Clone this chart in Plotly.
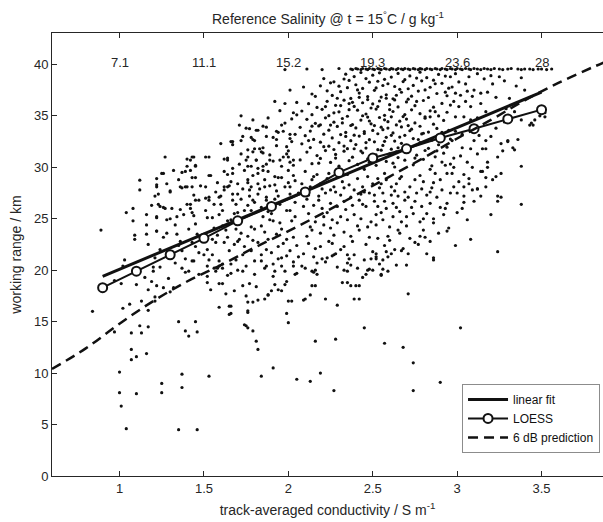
import plotly.graph_objects as go

# ---------------- data ----------------
linear_x = [0.9, 3.5]
linear_y = [19.4, 37.3]

loess_x = [0.9, 1.1, 1.3, 1.5, 1.7, 1.9, 2.1, 2.3, 2.5, 2.7, 2.9, 3.1, 3.3, 3.5]
loess_y = [18.3, 19.9, 21.5, 23.1, 24.8, 26.2, 27.6, 29.5, 30.9, 31.8, 32.85, 33.75, 34.7, 35.6]

pred_x = [0.6, 0.8, 1.0, 1.2, 1.4, 1.6, 1.8, 2.0, 2.2, 2.4, 2.6, 2.8, 3.0, 3.2, 3.4, 3.6, 3.8, 3.9]
pred_y = [10.4, 12.4, 14.8, 17.0, 18.9, 20.5, 22.2, 23.8, 25.5, 27.3, 29.1, 30.9, 32.8, 34.6, 36.5, 38.2, 39.7, 40.4]

cond_ticks = [1, 1.5, 2, 2.5, 3, 3.5]
cond_labels = ["1", "1.5", "2", "2.5", "3", "3.5"]
sal_labels = ["7.1", "11.1", "15.2", "19.3", "23.6", "28"]
range_ticks = [0, 5, 10, 15, 20, 25, 30, 35, 40]

# tracks that hit the maximum range (saturated row)
band_pts = [(1.98,39.5),(2.11,39.55),(2.20,39.5),(2.30,39.6),
 (2.37,39.55),(2.38,39.5),(2.40,39.6),(2.41,39.55),(2.43,39.5),(2.44,39.6),(2.46,39.55),(2.47,39.5),
 (2.48,39.6),(2.50,39.55),(2.51,39.5),(2.53,39.6),(2.54,39.55),(2.55,39.5),(2.57,39.6),(2.58,39.55),
 (2.60,39.5),(2.61,39.6),(2.62,39.55),(2.64,39.5),(2.65,39.6),(2.67,39.55),(2.68,39.5),(2.69,39.6),
 (2.71,39.55),(2.72,39.5),(2.74,39.6),(2.75,39.55),(2.77,39.5),(2.78,39.6),(2.79,39.55),(2.81,39.5),
 (2.82,39.6),(2.84,39.55),(2.85,39.5),(2.87,39.6),(2.88,39.55),(2.90,39.5),(2.91,39.6),(2.93,39.55),
 (2.94,39.5),(2.96,39.6),(2.97,39.55),(2.99,39.5),(3.00,39.6),(3.02,39.55),(3.03,39.5),(3.05,39.6),
 (3.07,39.55),(3.08,39.5),(3.10,39.6),(3.12,39.55),(3.14,39.5),(3.16,39.6),(3.18,39.55),(3.20,39.5),
 (3.22,39.6),(3.25,39.55),(3.27,39.5),(3.30,39.55),(3.32,39.6),(3.36,39.55),(3.38,39.5),(3.40,39.55),
 (3.43,39.55),(3.45,39.5),(3.48,39.55),(3.50,39.55),(3.53,39.5),(3.56,39.55)]

sparse_pts = [(0.84,16.0),(0.97,14.0),(1.00,10.1),(1.00,8.1),(1.01,6.8),(1.04,4.6),(1.02,16.3),(1.06,16.7),
 (1.01,18.7),(1.07,12.3),(1.07,11.3),(1.10,11.6),(1.10,8.0),(1.10,18.6),(1.07,13.9),(1.12,14.6),(1.13,13.9),
 (1.16,11.9),(1.13,17.0),(1.17,16.1),(1.17,14.5),(1.17,18.1),(1.21,17.4),(1.21,17.0),(1.22,18.5),(1.25,9.0),
 (1.25,8.1),(1.26,18.3),(1.30,17.9),(1.32,18.3),(1.35,15.0),(1.37,9.9),(1.37,8.6),(1.35,4.5),(1.39,14.1),
 (1.41,13.6),(1.45,15.0),(1.46,14.0),(1.46,4.5),(1.53,9.7),(1.59,16.4),(1.65,15.7),(1.65,16.5),(1.74,14.7),
 (1.76,14.4),(1.79,14.1),(1.76,15.9),(1.81,13.1),(1.82,12.3),(1.84,9.7),(1.91,10.5),(1.99,15.8),(2.00,14.9),
 (2.00,17.0),(2.05,9.4),(2.16,13.1),(2.28,13.3),(2.19,10.0),(2.13,9.2),(2.27,8.3),(2.45,14.4),(2.57,12.9),
 (2.68,12.5),(2.74,11.0),(2.74,8.3),(2.90,9.1),(3.02,14.4),(2.71,17.7),(2.29,16.6),(2.22,17.2),(2.42,17.2),
 (2.10,17.2),(2.13,17.6),(2.02,17.0),(1.86,17.2),(1.88,17.6),(1.79,16.9),(2.35,18.8),(2.42,18.5),(0.89,23.9),
 (1.66,16.5),(1.66,15.8),(1.76,16.05),(1.75,14.6),(2.09,17.1),(2.16,18.5),(1.54,18.1),(1.63,17.7),(1.68,18.0),
 (1.75,17.5),(1.76,16.9),(1.82,17.1),(1.88,17.6),(1.90,18.0),(1.94,18.1),(2.14,18.5),(2.37,18.5),(2.40,18.5),
 (2.39,17.2),(2.32,18.8),(0.97,19.0),(1.15,19.3),(1.19,18.9),(1.29,19.2)]

left_pts = [(1.03,21.0),(1.08,26.0),(1.04,25.6),(1.08,24.8),(1.09,23.4),(1.09,23.0),(1.12,28.75),(1.12,27.8),
 (1.16,25.4),(1.16,24.4),(1.16,23.5),(1.19,26.3),(1.17,22.5),(1.22,28.9),(1.22,28.3),(1.23,27.4),(1.22,25.2),
 (1.22,23.8),(1.24,26.2),(1.27,31.0),(1.26,29.4),(1.27,26.0),(1.28,24.9),(1.28,23.6),(1.30,27.7),(1.32,29.7),
 (1.31,26.0),(1.33,24.4),(1.34,25.2),(1.34,23.5),(1.37,28.0),(1.39,28.1),(1.38,25.4),(1.39,29.6),(1.40,30.8),
 (1.43,31.0),(1.41,24.0),(1.40,26.4),(1.42,26.0),(1.44,27.3),(1.45,26.8),(1.43,29.0),(1.45,30.2),(1.43,28.1),
 (1.44,25.3),(1.45,24.5),(1.46,23.5),(1.20,19.9),(1.24,20.3),(1.33,20.7),(1.39,19.8),(1.43,20.9),(1.47,19.6),
 (1.02,20.4),(1.20,20.3),(1.35,22.4),(1.39,21.1),(1.45,22.3),(1.25,29.4),(1.35,28.8),(1.37,29.5),(1.42,29.7),
 (1.45,29.0),(1.22,28.1),(1.28,28.4),(1.36,28.1),(1.40,28.1),(1.48,28.2),(1.21,27.2),(1.23,26.4),(1.26,26.1),
 (1.30,27.6),(1.22,25.1),(1.30,25.0),(1.36,25.9),(1.42,26.4),(1.47,26.8),(1.43,25.6),(1.22,23.8),(1.26,23.2),
 (1.24,22.0),(1.21,21.2),(1.36,22.8),(1.37,21.9),(1.43,22.7),(1.47,21.7),(1.44,20.9),(1.41,19.9),(1.37,20.2),
 (1.44,31.0),(1.42,30.7),(1.40,30.1),(1.45,30.1)]

midleft_pts = [(1.51,31.0),(1.53,31.0),(1.54,29.2),(1.51,28.1),(1.51,27.0),(1.53,26.8),(1.51,25.8),(1.55,25.1),
 (1.56,24.1),(1.60,32.3),(1.60,27.2),(1.60,26.4),(1.62,27.8),(1.64,30.7),(1.64,28.1),(1.66,24.9),(1.66,32.5),
 (1.67,29.4),(1.67,32.2),(1.67,26.8),(1.68,25.5),(1.69,24.0),(1.70,27.4),(1.72,35.0),(1.73,33.0),(1.74,29.7),
 (1.75,30.7),(1.75,33.8),(1.76,31.7),(1.76,28.8),(1.77,27.8),(1.78,25.8),(1.78,24.2),(1.79,26.8),(1.80,32.6),
 (1.81,33.6),(1.81,30.7),(1.82,29.4),(1.83,31.8),(1.84,31.5),(1.85,34.0),(1.85,29.7),(1.86,28.1),(1.87,26.8),
 (1.88,25.7),(1.89,30.7),(1.89,24.9),(1.91,32.9),(1.91,30.6),(1.92,29.1),(1.93,33.5),(1.94,27.2),(1.98,36.2),
 (1.98,34.3),(1.99,32.0),(2.00,29.7),(2.01,28.1),(2.01,25.8),(2.03,30.7),(2.04,33.2),(2.05,35.1),(2.06,27.5),
 (1.77,33.75),(1.82,33.6),(1.87,33.9),(1.94,33.4),(1.96,34.1),(2.02,34.7),(2.03,35.3),(1.97,33.5),(2.01,33.2),
 (1.67,32.5),(1.72,32.6),(1.78,32.9),(1.79,32.7),(1.87,33.0),(1.93,32.7),(1.93,32.1),(2.01,32.8),(2.02,32.5),
 (1.62,30.8),(1.64,30.9),(1.72,31.3),(1.76,31.0),(1.80,31.8),(1.85,31.9),(1.85,31.4),(1.79,31.5),(1.78,30.1),
 (1.81,30.7),(1.82,29.9),(1.85,30.1),(1.87,30.3),(1.89,31.2),(1.95,30.7),(1.96,30.1),(1.97,31.0),(1.99,31.3),
 (2.00,31.6),(2.00,31.0),(2.01,30.5),(2.03,30.2),(1.67,29.9),(1.76,30.1),
 (1.53,29.2),(1.64,29.3),(1.58,28.5),(1.62,28.1),(1.65,28.2),(1.70,28.4),(1.76,28.5),(1.78,28.1),(1.82,28.4),
 (1.86,28.8),(1.89,28.2),(1.94,29.0),(1.98,28.1),(2.00,28.5),(2.03,29.2),(1.52,25.1),(1.53,27.1),(1.56,26.4),
 (1.59,27.1),(1.61,25.8),(1.64,24.8),(1.67,27.4),(1.69,26.4),(1.72,26.9),(1.74,25.8),(1.77,27.2),(1.80,26.6),
 (1.82,27.4),(1.84,26.1),(1.84,24.3),(1.87,27.1),(1.90,25.5),(1.91,24.8),(1.93,27.7),(1.95,26.4),(1.96,24.0),
 (1.99,25.8),(2.01,27.4),(2.02,24.8),(2.03,23.2),(1.52,22.0),(1.55,21.5),(1.57,22.7),(1.59,20.9),(1.61,20.2),
 (1.62,22.7),(1.65,21.9),(1.64,23.2),(1.69,21.0),(1.70,22.8),(1.73,21.5),(1.74,22.3),(1.75,20.4),(1.76,23.3),
 (1.78,21.9),(1.80,20.9),(1.82,22.7),(1.84,21.5),(1.86,20.2),(1.88,23.0),(1.90,21.7),(1.91,20.6),(1.94,22.3),
 (1.96,21.2),(1.98,19.9),(1.99,23.0),(2.01,21.9),(2.03,20.8),(2.04,19.6),(1.57,19.9),(1.66,19.7),(1.80,19.6),
 (1.91,19.4),(1.50,21.5),(1.53,21.0),(1.52,20.4),(1.56,20.2),(1.58,20.2),(1.59,20.4),(1.61,20.6),(1.52,19.4),
 (1.52,18.8),(1.59,18.7),(1.61,18.7),(1.64,19.5),(1.70,20.0),(1.73,18.5),(1.77,18.7),(1.81,18.4),(1.87,20.4),
 (1.92,18.6),(1.96,18.0),(1.98,18.6),(1.99,18.9),(1.92,19.9),(1.96,20.4),(1.99,21.4),(2.03,20.4),(2.05,19.7),
 (1.58,23.4),(1.63,23.9),(1.72,23.6),(1.80,24.0),(1.86,23.7),(1.93,23.5),(1.55,23.0),(1.68,22.5),(1.97,22.6)]

center_upper_pts = [(2.34,39.05),(2.39,38.82),(2.43,39.21),(2.50,38.95),(2.54,39.18),(2.61,38.77),(2.65,39.12),
 (2.72,38.88),(2.78,39.24),(2.82,38.71),(2.89,39.02),(2.93,38.86),(2.46,38.62),(2.57,38.55),(2.69,38.51),(2.86,38.47),
 (2.21,38.62),(2.27,38.31),(2.30,37.88),(2.36,38.44),(2.40,38.02),(2.48,38.27),(2.52,37.71),(2.59,38.12),(2.63,37.85),
 (2.68,38.33),(2.74,37.96),(2.79,38.40),(2.84,37.78),(2.91,38.16),(2.95,37.69),(2.19,37.92),(2.44,37.66),(2.56,37.95),
 (2.71,37.63),(2.35,37.74),
 (2.14,37.12),(2.23,37.43),(2.26,36.98),(2.31,37.35),(2.37,36.69),(2.42,37.21),(2.47,36.87),(2.51,37.48),(2.58,37.04),
 (2.62,36.66),(2.67,37.29),(2.73,36.91),(2.77,37.41),(2.83,36.78),(2.88,37.17),(2.94,36.95),(2.29,36.71),(2.55,36.82),
 (2.81,37.52),
 (2.12,36.18),(2.17,35.82),(2.23,36.41),(2.28,36.02),(2.33,36.52),(2.39,35.91),(2.44,36.27),(2.49,35.76),(2.54,36.44),
 (2.60,36.08),(2.65,35.87),(2.70,36.35),(2.75,35.99),(2.80,36.49),(2.86,35.84),(2.91,36.21),(2.96,36.05),(2.36,36.19),
 (2.63,36.55),(2.47,36.58),
 (2.08,35.47),(2.14,35.11),(2.20,35.63),(2.24,35.02),(2.30,35.39),(2.35,34.96),(2.41,35.55),(2.46,35.18),(2.52,35.66),
 (2.57,35.05),(2.62,35.42),(2.68,34.93),(2.73,35.58),(2.78,35.21),(2.84,35.49),(2.89,34.99),(2.94,35.35),(2.27,35.29),
 (2.60,35.61),(2.81,34.91),
 (2.11,34.66),(2.16,34.27),(2.22,34.81),(2.27,34.38),(2.32,34.74),(2.38,34.15),(2.43,34.59),(2.49,34.22),(2.54,34.84),
 (2.59,34.43),(2.64,34.12),(2.70,34.69),(2.75,34.31),(2.81,34.77),(2.86,34.19),(2.92,34.55),(2.47,34.88),(2.66,34.48),
 (2.19,34.13),
 (2.07,33.88),(2.13,33.52),(2.18,34.02),(2.24,33.61),(2.29,33.97),(2.34,33.39),(2.40,33.83),(2.45,33.47),(2.51,34.05),
 (2.56,33.66),(2.62,33.34),(2.67,33.92),(2.72,33.55),(2.78,33.99),(2.83,33.42),(2.88,33.78),(2.95,33.58),(2.37,34.06),
 (2.59,33.81),(2.80,33.31),
 (2.10,33.07),(2.15,32.71),(2.21,33.22),(2.26,32.85),(2.31,33.18),(2.37,32.59),(2.42,33.03),(2.48,32.68),(2.53,33.26),
 (2.58,32.91),(2.63,32.55),(2.69,33.11),(2.74,32.79),(2.79,33.24),(2.85,32.63),(2.90,32.97),(2.96,32.74),(2.45,33.29),
 (2.66,32.94),
 (2.08,32.28),(2.13,31.92),(2.19,32.44),(2.24,32.05),(2.30,32.39),(2.35,31.81),(2.40,32.21),(2.46,31.87),(2.51,32.47),
 (2.56,32.12),(2.61,31.76),(2.67,32.33),(2.72,31.98),(2.78,32.41),(2.83,31.84),(2.89,32.19),(2.94,31.95),(2.27,31.73),
 (2.53,31.71),
 (2.11,31.48),(2.17,31.14),(2.22,31.62),(2.28,31.25),(2.33,31.57),(2.38,30.98),(2.44,31.41),(2.49,31.06),(2.55,31.66),
 (2.60,31.31),(2.65,30.94),(2.71,31.52),(2.76,31.18),(2.81,31.63),(2.87,31.02),(2.92,31.37),
 (2.07,30.72),(2.14,30.35),(2.19,30.86),(2.25,30.47),(2.30,30.11),(2.36,30.64),(2.41,30.28),(2.47,30.81),(2.52,30.19),
 (2.58,30.57),(2.63,30.03),(2.69,30.69),(2.74,30.24),(2.80,30.77),(2.85,30.14),(2.91,30.51),(2.96,30.31),
 (2.25,38.21),(2.33,38.58),(2.41,37.52),(2.53,38.36),(2.66,37.58),(2.76,38.67),(2.87,38.12),(2.38,36.31),(2.50,36.16),
 (2.58,36.71),(2.71,36.62),(2.32,34.31),(2.44,35.01),(2.57,34.61),(2.69,35.12),(2.39,33.12),(2.50,33.58),(2.61,33.11),
 (2.71,34.05),(2.33,32.06),(2.43,31.58),(2.57,32.52),(2.48,30.49),(2.64,31.49)]

center_lower_pts = [(2.10,29.6),(2.15,29.1),(2.19,28.4),(2.12,27.3),(2.18,27.2),(2.22,27.5),(2.27,28.1),(2.31,27.3),
 (2.36,28.3),(2.39,27.8),(2.41,28.9),(2.47,29.1),(2.50,28.4),(2.54,28.0),(2.58,28.8),(2.64,28.4),(2.67,29.1),
 (2.72,28.1),(2.76,27.5),(2.80,28.6),(2.85,28.0),(2.90,28.8),(2.94,29.4),(2.94,26.5),(2.92,25.4),(2.89,23.6),
 (2.86,21.0),(2.82,21.6),(2.80,23.9),(2.78,24.7),(2.74,25.5),(2.70,25.2),(2.66,25.7),(2.62,26.5),(2.59,23.3),
 (2.60,22.9),(2.63,22.0),(2.68,22.1),(2.56,21.0),(2.52,21.3),(2.50,21.8),(2.46,22.5),(2.45,21.0),(2.39,21.5),
 (2.37,20.5),(2.35,19.9),(2.31,22.0),(2.27,21.5),(2.24,22.8),(2.19,22.3),(2.15,21.3),(2.16,20.0),(2.10,20.2),
 (2.09,21.6),(2.11,23.3),(2.14,23.9),(2.19,23.6),(2.25,24.1),(2.27,23.4),(2.33,23.7),(2.37,23.3),(2.42,23.9),
 (2.47,24.2),(2.49,24.7),(2.52,24.4),(2.56,24.9),(2.60,24.2),(2.62,25.2),(2.43,25.0),(2.39,25.4),(2.35,24.9),
 (2.31,25.2),(2.26,24.9),(2.21,25.2),(2.16,24.7),(2.12,25.5),(2.09,26.2),(2.15,26.3),(2.20,26.0),(2.25,26.5),
 (2.29,26.2),(2.33,26.7),(2.38,26.3),(2.42,26.8),(2.46,26.2),(2.51,26.7),(2.53,26.2),(2.57,26.7),(2.51,27.3),
 (2.56,27.5),(2.61,27.3),(2.69,26.8),(2.75,26.7),(2.79,26.2),(2.84,26.5),(2.88,27.1),(2.82,25.5),(2.86,25.0),
 (2.78,23.3),(2.84,22.8),(2.72,23.1),(2.66,23.6),(2.53,23.1),(2.33,22.3),(2.17,20.7),(2.23,21.2),(2.29,20.3),
 (2.47,20.0),(2.59,19.9),(2.70,20.5),(2.86,21.2),(2.08,28.4),(2.13,28.1),(2.17,29.3),(2.23,28.9),(2.25,27.8),
 (2.30,29.1),(2.33,28.0),(2.44,28.1),(2.48,27.5),(2.53,28.9),(2.61,28.1),(2.69,27.6),(2.75,28.8),(2.82,27.3),
 (2.87,29.4),(2.91,27.8),(2.08,20.4),(2.14,19.9),(2.15,19.8),(2.17,19.6),(2.20,21.1),(2.22,20.8),(2.26,21.4),
 (2.28,21.6),(2.33,20.0),(2.35,20.7),(2.35,21.5),(2.36,21.1),(2.41,20.2),(2.44,19.3),(2.46,19.6),(2.48,20.1),
 (2.49,21.1),(2.52,21.1),(2.52,21.6),(2.55,19.5),(2.56,20.1),(2.58,21.8),(2.61,21.6),(2.50,20.0),(2.55,19.6),
 (2.71,21.6),(2.75,22.7),(2.67,21.9),(2.59,21.3),(2.64,20.5),(2.54,20.6),(2.81,23.2),(2.86,24.6),(2.94,23.8),
 (2.95,24.1),(2.93,26.0),(2.12,22.6),(2.21,24.4),(2.29,24.6),(2.41,24.3),(2.55,25.6),(2.67,24.7),(2.73,26.1),
 (2.18,26.8),(2.28,27.6),(2.37,27.1),(2.45,27.6),(2.58,26.0),(2.65,27.2),(2.79,27.9),(2.90,26.1)]

core_extra_pts = [(2.16,36.9),(2.22,35.9),(2.31,36.0),(2.42,36.8),(2.53,35.9),(2.64,37.0),(2.76,36.4),(2.87,35.4),
 (2.93,37.3),(2.14,34.0),(2.25,34.1),(2.36,35.6),(2.48,34.5),(2.61,34.9),(2.73,33.7),(2.84,34.9),(2.91,33.4),
 (2.12,32.6),(2.21,32.0),(2.34,33.0),(2.46,32.4),(2.55,33.9),(2.65,31.9),(2.77,32.7),(2.88,31.6),
 (2.18,30.4),(2.28,30.9),(2.39,31.8),(2.52,31.2),(2.62,30.4),(2.75,30.9),(2.84,29.8),(2.93,30.2),
 (2.14,28.8),(2.24,29.4),(2.35,29.3),(2.45,29.8),(2.57,29.4),(2.66,28.9),(2.78,29.2),(2.86,28.5),
 (2.11,26.9),(2.20,27.9),(2.32,28.6),(2.43,27.4),(2.55,28.4),(2.63,27.7),(2.71,27.1),(2.84,27.6),
 (2.13,24.2),(2.23,25.6),(2.34,25.9),(2.44,26.4),(2.52,25.4),(2.64,26.1),(2.70,24.3),(2.80,25.0),
 (2.16,22.1),(2.26,22.6),(2.38,22.8),(2.48,23.2),(2.57,22.4),(2.65,23.9),(2.77,22.5),
 (1.62,29.6),(1.71,30.3),(1.79,29.2),(1.88,29.6),(1.96,29.0),(2.04,28.7),
 (1.57,27.6),(1.66,28.6),(1.73,27.9),(1.83,27.9),(1.92,28.3),(2.04,26.6),
 (1.59,25.4),(1.70,25.6),(1.76,26.3),(1.85,25.2),(1.92,26.9),(2.04,25.2),
 (1.61,24.3),(1.71,23.0),(1.79,22.9),(1.87,22.0),(1.95,24.6),(2.05,22.4),
 (1.66,20.6),(1.73,19.9),(1.84,20.9),(1.94,21.1),(2.06,21.3),
 (1.71,34.1),(1.79,34.6),(1.88,34.8),(1.95,35.5),(2.05,36.3),(2.09,37.8),(1.92,36.4),(2.01,37.5)]

right_pts = [(3.38,30.1),(3.38,26.4),(3.24,21.8),(3.06,24.9),(3.10,26.7),(3.24,26.7),(3.26,27.1),(3.26,29.4),
 (3.21,28.8),(3.15,29.6),(3.17,31.8),(3.26,32.3),(3.30,32.6),(3.34,31.7),(3.45,34.1),(3.46,34.6),(3.52,35.3),
 (3.52,34.9),(3.43,34.1),(3.24,31.0),(3.07,28.4),(3.12,27.9),(3.18,30.5),(3.03,26.0),(3.00,25.6),(3.04,26.6),
 (3.38,34.6),(3.44,34.3),(3.49,35.0),(3.29,35.7),(3.34,35.4),(3.28,34.4),(3.23,33.8),(3.30,32.5),(3.36,32.7),
 (3.33,31.9),(3.27,31.6),(3.23,29.1),(3.24,27.2),(3.17,29.0),(3.18,30.0),(3.14,29.6),(3.12,31.3),(3.15,31.8),
 (3.17,32.6),(3.20,33.0),(3.10,32.6),(3.08,31.8),(3.03,31.9),(3.02,31.1),(3.06,30.5),(3.09,30.0),(3.04,29.3),
 (3.07,28.9),(3.01,28.6),(2.98,28.1),(2.96,27.5),(3.04,28.1),(3.09,27.8),(3.12,27.9),(3.14,27.2),(3.17,28.1),
 (2.96,38.8),(2.99,39.1),(3.01,38.3),(2.97,37.8),(2.99,37.2),(3.05,38.1),(3.07,38.8),(3.10,37.5),(3.12,39.1),
 (3.14,37.2),(3.16,38.6),(3.20,38.9),(3.25,38.8),(3.28,38.4),(3.21,38.1),(3.18,37.3),(3.23,36.8),(3.14,36.2),
 (3.08,35.9),(3.05,36.4),(3.01,35.9),(2.99,34.9),(3.04,34.9),(3.08,34.6),(3.12,34.8),(3.17,35.4),(3.38,38.7),
 (3.35,37.9),(3.40,37.5),(3.31,36.7),(2.98,30.9),(2.98,30.0),(2.97,29.4),(2.99,33.5),(3.03,33.2),(3.09,33.6),
 (3.13,33.1),(2.97,32.6),(3.02,37.0),(3.09,36.9),(2.98,36.4),(3.06,37.4),(3.00,27.5),(3.04,27.2),(3.20,25.4),
 (3.08,23.0),(2.99,22.4)]

# ---------------- figure ----------------
all_pts = (band_pts + sparse_pts + left_pts + midleft_pts + center_upper_pts + center_lower_pts
           + core_extra_pts + right_pts)
sx = [p[0] for p in all_pts]
sy = [p[1] for p in all_pts]

FONT = "Liberation Sans, Arial, Helvetica, sans-serif"
TXT = "#262626"

fig = go.Figure()
fig.add_trace(go.Scatter(x=sx, y=sy, mode="markers", showlegend=False, hoverinfo="skip",
                         marker=dict(size=3.2, color="#111111", line=dict(width=0))))
fig.add_trace(go.Scatter(x=linear_x, y=linear_y, mode="lines", name="linear fit",
                         line=dict(color="#111111", width=3)))
fig.add_trace(go.Scatter(x=loess_x, y=loess_y, mode="lines+markers", name="LOESS",
                         line=dict(color="#111111", width=2),
                         marker=dict(symbol="circle", size=9, color="white",
                                     line=dict(color="#111111", width=2))))
fig.add_trace(go.Scatter(x=pred_x, y=pred_y, mode="lines", name="6 dB prediction", line_shape="spline",
                         line=dict(color="#111111", width=2.5, dash="10px,6px")))
# invisible trace to carry the top (salinity) axis
fig.add_trace(go.Scatter(x=cond_ticks, y=[None] * len(cond_ticks), xaxis="x2", showlegend=False,
                         hoverinfo="skip", mode="markers"))

# salinity labels sit just below the top axis line, at the conductivity tick positions
sal_annotations = [dict(text=lab, x=xv, xref="x", y=1, yref="paper", xanchor="center", yanchor="top",
                        yshift=-20, showarrow=False, font=dict(size=13, color=TXT))
                   for xv, lab in zip(cond_ticks, sal_labels)]

fig.update_layout(
    width=603, height=522,
    margin=dict(l=52, r=0, t=33, b=46),
    paper_bgcolor="white", plot_bgcolor="white",
    font=dict(family=FONT, size=13, color=TXT),
    xaxis=dict(range=[0.6, 3.864], tickvals=cond_ticks, ticktext=cond_labels,
               showline=True, linecolor=TXT, linewidth=1, mirror=False,
               ticks="inside", ticklen=5, tickcolor=TXT, showgrid=False, zeroline=False,
               title=dict(text="track-averaged conductivity / S m<sup>-1</sup>",
                          font=dict(size=14, color=TXT), standoff=10)),
    xaxis2=dict(range=[0.6, 3.864], overlaying="x", side="top", tickvals=cond_ticks,
                showticklabels=False,
                showline=True, linecolor=TXT, linewidth=1, ticks="inside", ticklen=5, tickcolor=TXT,
                showgrid=False, zeroline=False),
    yaxis=dict(range=[0, 43.05], tickvals=range_ticks,
               showline=True, linecolor=TXT, linewidth=1, mirror=False,
               ticks="inside", ticklen=5, tickcolor=TXT, showgrid=False, zeroline=False,
               title=dict(text="working range / km", font=dict(size=14, color=TXT), standoff=9)),
    legend=dict(x=0.9946, y=0.052, xanchor="right", yanchor="bottom",
                bgcolor="white", bordercolor="#8c8c8c", borderwidth=1,
                font=dict(size=12, color="#111111"), itemwidth=40, tracegroupgap=0),
    annotations=[dict(text="Reference Salinity @ t = 15<sup>°</sup>C / g kg<sup>-1</sup>",
                      x=0.5, y=1, xref="paper", yref="paper", xanchor="center", yanchor="bottom",
                      yshift=4, showarrow=False, font=dict(size=14, color=TXT))] + sal_annotations,
)

fig.write_html("out.html")
